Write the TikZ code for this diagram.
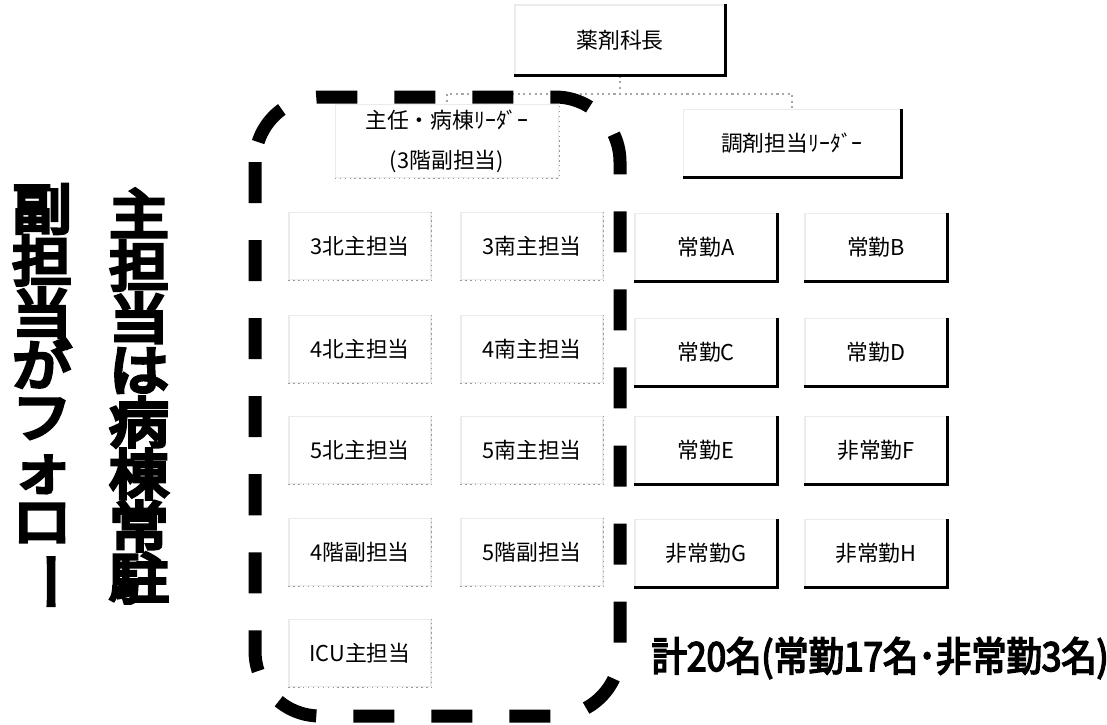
\documentclass[tikz,border=0pt]{standalone}
\usepackage{fontspec}
\setmainfont{Noto Sans CJK JP}
\newfontfamily\heavyjp{Noto Sans CJK JP}[FakeBold=7,FakeStretch=1.1]
\newfontfamily\sumjp{Noto Sans CJK JP}[FakeBold=4,FakeStretch=0.88]

\tikzset{
  unit/.style={draw=black!8, fill=white, inner sep=0pt, minimum width=1.42cm, minimum height=0.67cm,
    font=\fontsize{6.2}{10.8}\selectfont},
  link/.style={draw=black!35, line width=0.6pt, densely dotted},
  darkedge/.style={draw=black, line width=0.9pt},
  lightedge/.style={draw=black!40, line width=0.4pt, densely dotted},
  frame/.style={line width=0.13cm, dash pattern=on 0.41cm off 0.37cm, rounded corners=0.65cm},
  bigcol/.style={font=\heavyjp\fontsize{15.4}{14.8}\selectfont, align=center, inner sep=0pt}
}

\begin{document}
\begin{tikzpicture}[x=0.01cm, y=-0.01cm]
\useasboundingbox (0,0) rectangle (1107,724);

% heads
\node[unit, minimum width=2.1cm, minimum height=0.7cm] (kacho) at (620,40) {薬剤科長};
\node[unit, minimum width=2.23cm, minimum height=0.73cm, align=center] (shunin) at (447,141) {主任・病棟ﾘｰﾀﾞｰ\\[0.6pt](3階副担当)};
\node[unit, minimum width=2.17cm] (chozai) at (792,143) {調剤担当ﾘｰﾀﾞｰ};

\draw[link] (kacho.south) -- ++(0,18) -| (shunin.north);
\draw[link] (kacho.south) -- ++(0,18) -| (chozai.north);

% ward pharmacists
\foreach \n/\t/\x/\y in {n3/3北主担当/360/246, s3/3南主担当/532/246,
    n4/4北主担当/360/349, s4/4南主担当/532/349,
    n5/5北主担当/360/450, s5/5南主担当/532/450,
    f4/4階副担当/360/552, f5/5階副担当/532/552,
    icu/ICU主担当/360/653}
  \node[unit] (\n) at (\x,\y) {\t};
\foreach \n in {n3, s3, n4, s4, n5, s5, f4, f5, icu, shunin}
  \draw[lightedge] (\n.south west) -- (\n.south east) -- (\n.north east);

% dispensing staff
\foreach \n/\t/\x/\y in {a/常勤A/706/247, b/常勤B/876/247,
    c/常勤C/706/352, d/常勤D/876/352,
    e/常勤E/706/450, f/非常勤F/876/450,
    g/非常勤G/706/553, h/非常勤H/876/553}
  \node[unit] (\n) at (\x,\y) {\t};
\foreach \n in {a, b, c, d, e, f, g, h, kacho, chozai}
  \draw[darkedge] (\n.south west) -- (\n.south east) -- (\n.north east);

% ward group
\draw[frame] (255,97) rectangle (620,716);

\node[bigcol] (follow) at (42,398) {副\\担\\当\\が\\フ\\ォ\\ロ\\\rotatebox[origin=c]{-90}{ー}};
\node[bigcol] (resident) at (139,396) {主\\担\\当\\は\\病\\棟\\常\\駐};

\node[anchor=west, inner sep=0pt, font=\sumjp\fontsize{11.4}{12}\selectfont] (total) at (651,658) {計20名(常勤17名･非常勤3名)};
\end{tikzpicture}
\end{document}
